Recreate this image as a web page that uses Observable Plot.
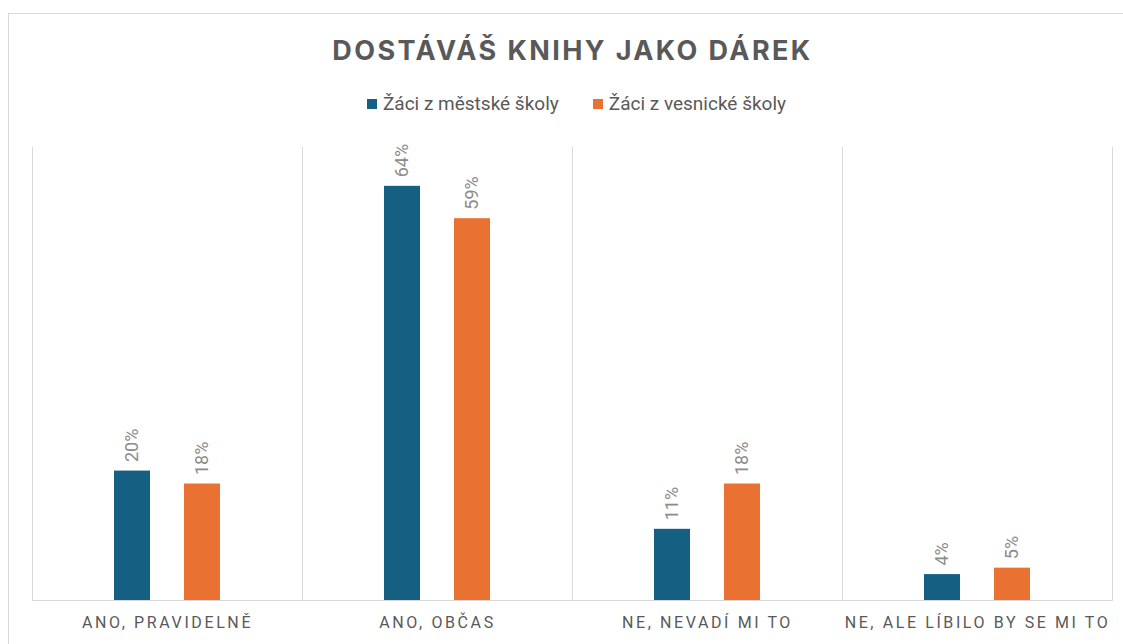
<!DOCTYPE html>
<html>
<head>
<meta charset="utf-8">
<script src="https://cdn.jsdelivr.net/npm/d3@7"></script>
<script src="https://cdn.jsdelivr.net/npm/@observablehq/plot@0.6"></script>
<style>
  html, body { margin: 0; padding: 0; background: #fff; }
  #wrap { position: relative; width: 1123px; height: 644px; overflow: hidden; background: #fff; }
  #border { position: absolute; left: 8px; top: 13px; right: -2px; bottom: -2px; border-left: 1px solid #d9d9d9; border-top: 1px solid #d9d9d9; }
  #title { position: absolute; left: 11px; width: 1123px; top: 34px; text-align: center; font-family: Inter, "Open Sans", sans-serif; font-weight: 700; font-size: 27px; letter-spacing: 2.4px; color: #595959; }
  #legend { position: absolute; left: 15px; width: 1123px; top: 92px; text-align: center; font-family: "Liberation Sans Narrow", Roboto, sans-serif; font-size: 19px; color: #595959; }
  #legend span.item { display: inline-block; margin: 0 17px; }
  #legend span.sw { display: inline-block; width: 10px; height: 10px; margin-right: 6px; vertical-align: 1px; }
  #chart { position: absolute; left: 0; top: 142px; }
  #chart svg [aria-label="fx-axis tick label"] text { letter-spacing: 2.6px; }
</style>
</head>
<body>
<div id="wrap">
  <div id="border"></div>
  <div id="title">DOSTÁVÁŠ KNIHY JAKO DÁREK</div>
  <div id="legend"></div>
  <div id="chart"></div>
</div>
<script>
const categories = ["ANO, PRAVIDELNĚ", "ANO, OBČAS", "NE, NEVADÍ MI TO", "NE, ALE LÍBILO BY SE MI TO"];
const seriesNames = ["Žáci z městské školy", "Žáci z vesnické školy"];
const urbanValues = [20, 64, 11, 4];
const ruralValues = [18, 59, 18, 5];
const seriesColors = ["#156082", "#E97132"];

const data = [];
categories.forEach((c, i) => {
  data.push({category: c, series: seriesNames[0], value: urbanValues[i]});
  data.push({category: c, series: seriesNames[1], value: ruralValues[i]});
});

const legend = document.getElementById("legend");
seriesNames.forEach((s, i) => {
  const item = document.createElement("span");
  item.className = "item";
  const sw = document.createElement("span");
  sw.className = "sw";
  sw.style.background = seriesColors[i];
  item.appendChild(sw);
  item.appendChild(document.createTextNode(s));
  legend.appendChild(item);
});

const chart = Plot.plot({
  width: 1123,
  height: 498,
  marginTop: 5,
  marginBottom: 40,
  marginLeft: 31,
  marginRight: 10,
  style: {fontFamily: "Roboto, 'Liberation Sans', sans-serif", background: "transparent"},
  fx: {domain: categories, padding: 0, label: null},
  x: {domain: seriesNames, paddingInner: 0.486, paddingOuter: 1.171, axis: null},
  y: {domain: [0, 70], axis: null},
  color: {domain: seriesNames, range: seriesColors},
  marks: [
    Plot.frame({anchor: "left", stroke: "#d9d9d9", strokeOpacity: 1}),
    Plot.frame({anchor: "right", stroke: "#d9d9d9", strokeOpacity: 1}),
    Plot.frame({anchor: "bottom", stroke: "#d9d9d9", strokeOpacity: 1}),
    Plot.barY(data, {fx: "category", x: "series", y: "value", fill: "series"}),
    Plot.text(data, {
      fx: "category", x: "series", y: "value",
      text: d => d.value + "%",
      rotate: -90, textAnchor: "start", dy: -9,
      fill: "#8c8c8c", fontSize: 18
    }),
    Plot.axisFx({anchor: "bottom", tickSize: 0, label: null, dy: 7, fontSize: 16, fill: "#595959"})
  ]
});
document.getElementById("chart").appendChild(chart);
</script>
</body>
</html>
